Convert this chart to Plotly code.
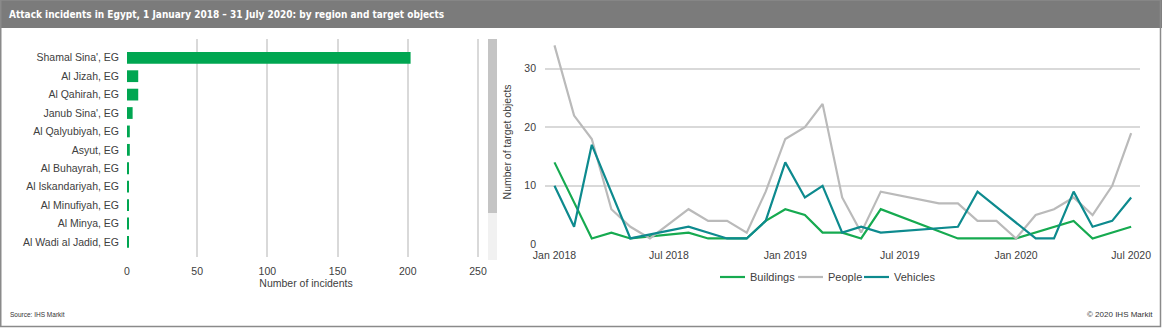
import plotly.graph_objects as go

W, H = 1162, 330

# ---------------- data ----------------
regions = ["Shamal Sina', EG", "Al Jizah, EG", "Al Qahirah, EG", "Janub Sina', EG",
           "Al Qalyubiyah, EG", "Asyut, EG", "Al Buhayrah, EG", "Al Iskandariyah, EG",
           "Al Minufiyah, EG", "Al Minya, EG", "Al Wadi al Jadid, EG"]
incidents = [202, 8, 8, 4, 2, 2, 1, 1, 1, 1, 1]

months = ["2018-01-01", "2018-02-01", "2018-03-01", "2018-04-01", "2018-05-01", "2018-06-01",
          "2018-07-01", "2018-08-01", "2018-09-01", "2018-10-01", "2018-11-01", "2018-12-01",
          "2019-01-01", "2019-02-01", "2019-03-01", "2019-04-01", "2019-05-01", "2019-06-01",
          "2019-07-01", "2019-08-01", "2019-09-01", "2019-10-01", "2019-11-01", "2019-12-01",
          "2020-01-01", "2020-02-01", "2020-03-01", "2020-04-01", "2020-05-01", "2020-06-01",
          "2020-07-01"]
buildings = [14, None, 1, 2, 1, None, None, 2, 1, 1, 1, 4, 6, 5, 2, 2, 1, 6, None, None,
             None, 1, 1, 1, 1, None, None, 4, 1, None, 3]
people = [34, 22, 18, 6, 3, 1, None, 6, 4, 4, 2, 9, 18, 20, 24, 8, 2, 9, None, None,
          7, 7, 4, 4, 1, 5, 6, 8, 5, 10, 19]
vehicles = [10, 3, 17, None, 1, None, None, 3, None, 1, 1, 4, 14, 8, 10, 2, 3, 2, None, None,
            None, 3, 9, None, None, 1, 1, 9, 3, 4, 8]

series_names = ["Buildings", "People", "Vehicles"]

bar_ticks = [0, 50, 100, 150, 200, 250]
date_ticks = ["2018-01-01", "2018-07-01", "2019-01-01", "2019-07-01", "2020-01-01", "2020-07-01"]
date_labels = ["Jan 2018", "Jul 2018", "Jan 2019", "Jul 2019", "Jan 2020", "Jul 2020"]
y_ticks = [0, 10, 20, 30]

# ---------------- styling ----------------
FONT = "Liberation Sans, Arial, sans-serif"
TXT = "#404040"
GRID = "#d9d9d9"
BAR_GREEN = "#00a651"
LINE_COLORS = ["#16aa50", "#bababa", "#0d8a8e"]


def px(x):
    return x / W


def py(y):
    return 1 - y / H


fig = go.Figure()

fig.add_trace(go.Bar(
    x=incidents, y=list(range(len(regions))), orientation="h",
    marker=dict(color=BAR_GREEN, line=dict(width=0)), width=0.64,
    xaxis="x", yaxis="y", showlegend=False, hoverinfo="x+text", text=regions,
    textposition="none"))

for name, vals, col in zip(series_names, [buildings, people, vehicles], LINE_COLORS):
    fig.add_trace(go.Scatter(
        x=months, y=vals, mode="lines", name=name, connectgaps=True,
        line=dict(color=col, width=2.2), xaxis="x2", yaxis="y2", showlegend=False))

fig.update_layout(
    width=W, height=H, autosize=False,
    margin=dict(l=0, r=0, t=0, b=0, autoexpand=False),
    paper_bgcolor="white", plot_bgcolor="white",
    font=dict(family=FONT, size=10.5, color=TXT),
    showlegend=False,
    xaxis=dict(domain=[px(127), px(485)], range=[0, 255], tickvals=bar_ticks,
               showgrid=True, gridcolor=GRID, gridwidth=1.5, zeroline=False,
               showline=False, ticks="", ticklabelstandoff=6, automargin=False,
               title=dict(text="Number of incidents", standoff=4,
                          font=dict(size=10.5, color=TXT)),
               anchor="y", fixedrange=True),
    yaxis=dict(domain=[py(257), py(39)], range=[10.82, -1.02],
               tickvals=list(range(len(regions))), ticktext=regions,
               showgrid=False, zeroline=False, showline=False, ticks="",
               ticklabelstandoff=7, anchor="x", fixedrange=True, automargin=False),
    xaxis2=dict(domain=[px(545), px(1140)], type="date",
                range=["2017-12-17", "2020-07-15"],
                tickvals=date_ticks, ticktext=date_labels,
                showgrid=False, zeroline=False, showline=False, ticks="",
                ticklabelstandoff=3, anchor="y2", fixedrange=True, automargin=False),
    yaxis2=dict(domain=[py(244.3), py(39.5)], range=[0, 35], tickvals=y_ticks,
                showgrid=True, gridcolor=GRID, gridwidth=1.5, zeroline=False,
                showline=False, ticks="", ticklabelstandoff=8, automargin=False,
                title=dict(text="Number of target objects", standoff=10,
                           font=dict(size=10.5, color=TXT)),
                anchor="x2", fixedrange=True),
)

shapes = [
    # title bar
    dict(type="rect", xref="paper", yref="paper", x0=0, x1=1, y0=py(28), y1=1,
         fillcolor="#7b7b7b", line=dict(width=0), layer="below"),
    # outer frame
    dict(type="rect", xref="paper", yref="paper", x0=px(0.75), x1=px(1160.5),
         y0=py(326.5), y1=1, fillcolor="rgba(0,0,0,0)",
         line=dict(color="#8a8a8a", width=1.5)),
    # scrollbar
    dict(type="rect", xref="paper", yref="paper", x0=px(488), x1=px(497),
         y0=py(213), y1=py(39), fillcolor="#c4c4c4", line=dict(width=0)),
    dict(type="rect", xref="paper", yref="paper", x0=px(488), x1=px(497),
         y0=py(260), y1=py(213), fillcolor="#f1f1f1", line=dict(width=0)),
]

annotations = [
    dict(text="Attack incidents in Egypt, 1 January 2018 \u2013 31 July 2020: by region and target objects",
         xref="paper", yref="paper", x=px(7), y=py(14), xanchor="left", yanchor="middle",
         showarrow=False,
         font=dict(family="DejaVu Sans Condensed, Liberation Sans Narrow, sans-serif",
                   size=10, color="white", weight="bold")),
    dict(text="Source: IHS Markit", xref="paper", yref="paper", x=px(8), y=py(314),
         xanchor="left", yanchor="middle", showarrow=False,
         font=dict(size=6.5, color="#333333")),
    dict(text="\u00a9 2020 IHS Markit", xref="paper", yref="paper", x=px(1155), y=py(314),
         xanchor="right", yanchor="middle", showarrow=False,
         font=dict(size=8, color="#333333")),
]

# manual legend (line samples + labels)
legend_x = [720, 798, 864]
for name, col, lx in zip(series_names, LINE_COLORS, legend_x):
    shapes.append(dict(type="line", xref="paper", yref="paper", x0=px(lx), x1=px(lx + 25),
                       y0=py(277), y1=py(277), line=dict(color=col, width=2.2)))
    annotations.append(dict(text=name, xref="paper", yref="paper", x=px(lx + 28), y=py(277),
                            xanchor="left", yanchor="middle", showarrow=False,
                            font=dict(size=11, color=TXT)))

fig.update_layout(shapes=shapes, annotations=annotations)

fig.write_html("out.html", config={"displayModeBar": False})
